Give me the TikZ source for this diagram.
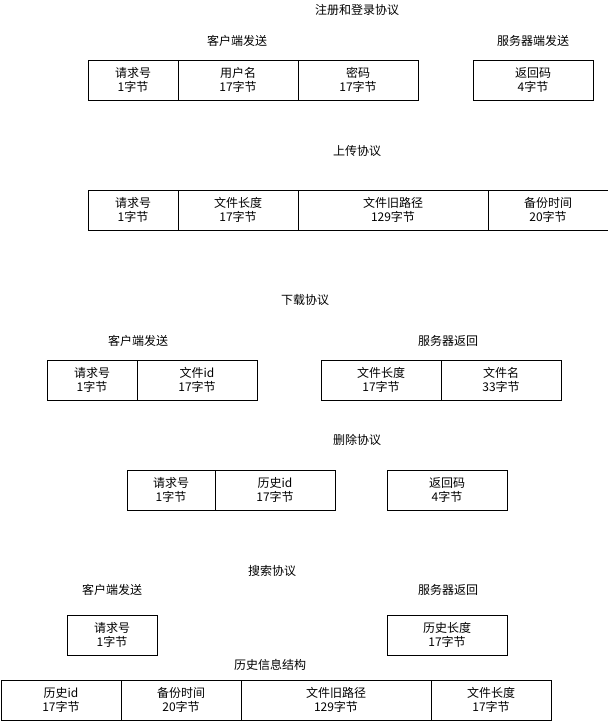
\documentclass[tikz,border=0pt]{standalone}
\usepackage{fontspec}
\setmainfont{Noto Sans CJK SC}
\usetikzlibrary{positioning}

\begin{document}
\begin{tikzpicture}[x=1pt,y=-1pt]
	\tikzset{FieldStyle/.style =
		{draw,
			shape = rectangle,
			line width = 0.9pt,
			outer sep = 0pt,
			inner sep = 0pt,
			minimum height = 40pt,
			align = center,
			font = \fontsize{12}{14}\selectfont,
			color = black},
		TitleStyle/.style =
		{font = \fontsize{12}{14}\selectfont}}
	\useasboundingbox (0,0) rectangle (608,721);
	% 注册和登录
	\node[TitleStyle] (regT) at (357,10) {注册和登录协议};
	\node[TitleStyle] (regC) at (237,41) {客户端发送};
	\node[TitleStyle] (regS) at (533,41) {服务器端发送};
	\node[FieldStyle, minimum width=90pt, anchor=north west] (regA) at (88,60) {请求号\\1字节};
	\node[FieldStyle, minimum width=120pt, right=0pt of regA] (regB) {用户名\\17字节};
	\node[FieldStyle, minimum width=120pt, right=0pt of regB] (regD) {密码\\17字节};
	\node[FieldStyle, minimum width=120pt, anchor=north west] (regR) at (473,60) {返回码\\4字节};
	% 上传
	\node[TitleStyle] (upT) at (357,151) {上传协议};
	\node[FieldStyle, minimum width=90pt, anchor=north west] (upA) at (88,190) {请求号\\1字节};
	\node[FieldStyle, minimum width=120pt, right=0pt of upA] (upB) {文件长度\\17字节};
	\node[FieldStyle, minimum width=190pt, right=0pt of upB] (upD) {文件旧路径\\129字节};
	\node[FieldStyle, minimum width=120pt, right=0pt of upD] (upE) {备份时间\\20字节};
	% 下载
	\node[TitleStyle] (downT) at (305,300) {下载协议};
	\node[TitleStyle] (downC) at (138,341) {客户端发送};
	\node[TitleStyle] (downS) at (448,341) {服务器返回};
	\node[FieldStyle, minimum width=90pt, anchor=north west] (downA) at (47,360) {请求号\\1字节};
	\node[FieldStyle, minimum width=120pt, right=0pt of downA] (downB) {文件id\\17字节};
	\node[FieldStyle, minimum width=120pt, anchor=north west] (downL) at (321,360) {文件长度\\17字节};
	\node[FieldStyle, minimum width=120pt, right=0pt of downL] (downN) {文件名\\33字节};
	% 删除
	\node[TitleStyle] (delT) at (357,440) {删除协议};
	\node[FieldStyle, minimum width=88pt, anchor=north west] (delA) at (127,470) {请求号\\1字节};
	\node[FieldStyle, minimum width=120pt, right=0pt of delA] (delB) {历史id\\17字节};
	\node[FieldStyle, minimum width=120pt, anchor=north west] (delR) at (387,470) {返回码\\4字节};
	% 搜索
	\node[TitleStyle] (findT) at (272,571) {搜索协议};
	\node[TitleStyle] (findC) at (112,590) {客户端发送};
	\node[TitleStyle] (findS) at (448,590) {服务器返回};
	\node[FieldStyle, minimum width=90pt, anchor=north west] (findA) at (67,615) {请求号\\1字节};
	\node[FieldStyle, minimum width=120pt, anchor=north west] (findL) at (387,615) {历史长度\\17字节};
	% 历史信息结构
	\node[TitleStyle] (histT) at (270,665) {历史信息结构};
	\node[FieldStyle, minimum width=120pt, anchor=north west] (histA) at (1,680) {历史id\\17字节};
	\node[FieldStyle, minimum width=120pt, right=0pt of histA] (histB) {备份时间\\20字节};
	\node[FieldStyle, minimum width=190pt, right=0pt of histB] (histD) {文件旧路径\\129字节};
	\node[FieldStyle, minimum width=120pt, right=0pt of histD] (histE) {文件长度\\17字节};
\end{tikzpicture}
\end{document}
